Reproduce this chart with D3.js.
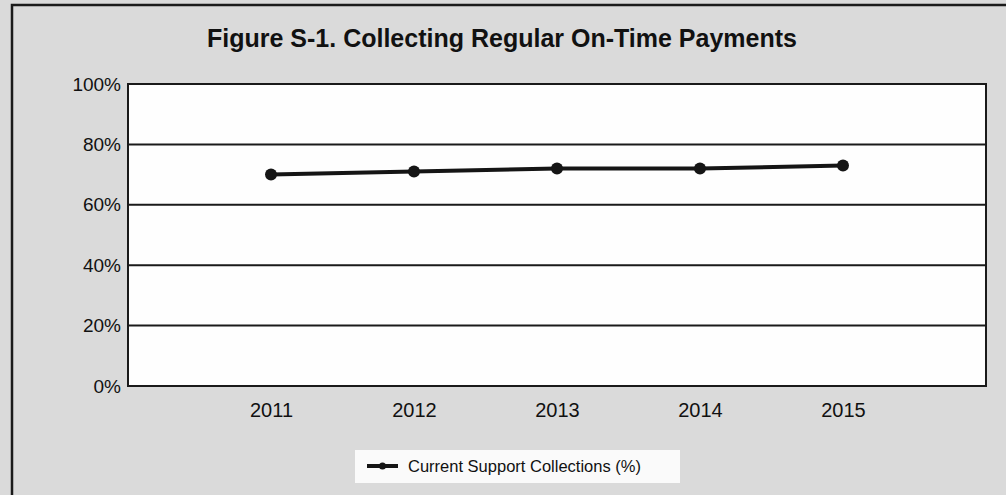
<!DOCTYPE html>
<html>
<head>
<meta charset="utf-8">
<script src="https://cdn.jsdelivr.net/npm/d3@7"></script>
<style>
  html, body { margin: 0; padding: 0; background: #dadada; }
  svg { display: block; font-family: "Liberation Sans", Arial, sans-serif; }
</style>
</head>
<body>
<svg id="chart" width="1006" height="495"></svg>
<script>
// Data: current support collections rate by fiscal year
const years = ["2011", "2012", "2013", "2014", "2015"];
const collections = [70, 71, 72, 72, 73];
const yTicks = [0, 20, 40, 60, 80, 100];
const chartTitle = "Figure S-1. Collecting Regular On-Time Payments";
const seriesName = "Current Support Collections (%)";

const W = 1006, H = 495;
const plot = { left: 128, right: 986, top: 84, bottom: 386 };

const svg = d3.select("#chart");

// Page background and outer frame
svg.append("rect").attr("width", W).attr("height", H).attr("fill", "#dadada");
svg.append("path")
  .attr("d", `M12,${H + 2} L12,5 L${W + 2},5`)
  .attr("fill", "none").attr("stroke", "#1a1a1a").attr("stroke-width", 2.5);

// Title
svg.append("text")
  .attr("x", 502).attr("y", 47)
  .attr("text-anchor", "middle")
  .attr("font-size", 25).attr("font-weight", "bold")
  .attr("fill", "#111")
  .text(chartTitle);

// Scales
const x = d3.scalePoint().domain(years).range([plot.left, plot.right]).padding(1);
const y = d3.scaleLinear().domain([0, 100]).range([plot.bottom, plot.top]);

// Plot area
svg.append("rect")
  .attr("x", plot.left).attr("y", plot.top)
  .attr("width", plot.right - plot.left).attr("height", plot.bottom - plot.top)
  .attr("fill", "#fefefe");

// Horizontal gridlines
svg.append("g").selectAll("line").data(yTicks).join("line")
  .attr("x1", plot.left).attr("x2", plot.right)
  .attr("y1", d => y(d)).attr("y2", d => y(d))
  .attr("stroke", "#1a1a1a").attr("stroke-width", 2);

// Plot border
svg.append("rect")
  .attr("x", plot.left).attr("y", plot.top)
  .attr("width", plot.right - plot.left).attr("height", plot.bottom - plot.top)
  .attr("fill", "none").attr("stroke", "#1a1a1a").attr("stroke-width", 2);

// Y axis labels
const yAxis = d3.axisLeft(y).tickValues(yTicks).tickFormat(d => d + "%").tickSize(0).tickPadding(7);
const yg = svg.append("g").attr("transform", `translate(${plot.left},0)`).call(yAxis);
yg.select(".domain").remove();
yg.selectAll("text").attr("font-size", 19).attr("fill", "#111")
  .attr("font-family", "Liberation Sans, Arial, sans-serif");

// X axis labels
const xAxis = d3.axisBottom(x).tickSize(0).tickPadding(17);
const xg = svg.append("g").attr("transform", `translate(0,${plot.bottom})`).call(xAxis);
xg.select(".domain").remove();
xg.selectAll("text").attr("font-size", 20).attr("fill", "#111")
  .attr("font-family", "Liberation Sans, Arial, sans-serif");

// Series line and markers
const line = d3.line().x((d, i) => x(years[i])).y(d => y(d));
svg.append("path")
  .datum(collections)
  .attr("d", line)
  .attr("fill", "none").attr("stroke", "#151515").attr("stroke-width", 4);
svg.append("g").selectAll("circle").data(collections).join("circle")
  .attr("cx", (d, i) => x(years[i])).attr("cy", d => y(d))
  .attr("r", 6).attr("fill", "#151515");

// Legend
const lg = svg.append("g").attr("transform", "translate(355,450)");
lg.append("rect").attr("width", 325).attr("height", 33).attr("fill", "#fafafa");
lg.append("line").attr("x1", 12).attr("x2", 43).attr("y1", 16).attr("y2", 16)
  .attr("stroke", "#151515").attr("stroke-width", 4);
lg.append("circle").attr("cx", 27.5).attr("cy", 16).attr("r", 3.5).attr("fill", "#151515");
lg.append("text").attr("x", 53).attr("y", 22)
  .attr("font-size", 16.5).attr("fill", "#111")
  .text(seriesName);
</script>
</body>
</html>
